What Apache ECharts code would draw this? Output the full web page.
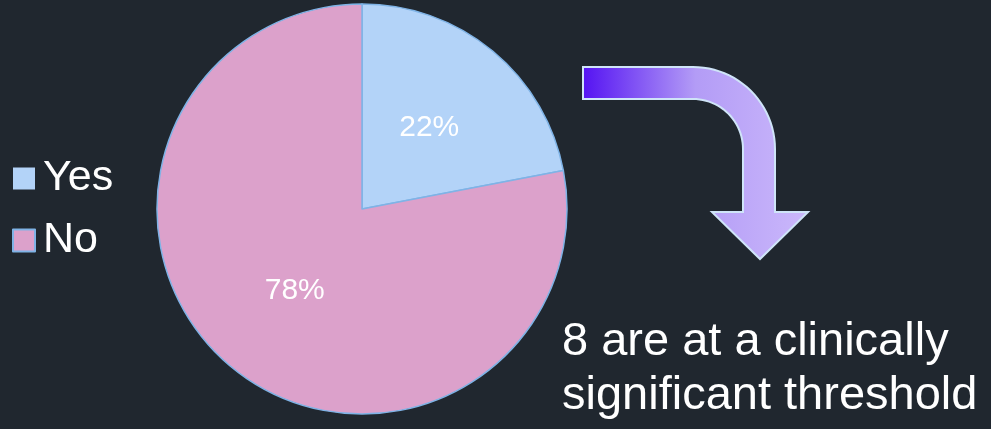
<!DOCTYPE html>
<html><head><meta charset="utf-8">
<script src="https://cdn.jsdelivr.net/npm/echarts@6/dist/echarts.min.js"></script>
<style>html,body{margin:0;padding:0;background:#20272f;}#c{width:991px;height:429px;}</style>
</head><body><div id="c"></div>
<script>
const categories = ['Yes', 'No'];
const values = [22, 78];
const noteLines = ['8 are at a clinically', 'significant threshold'];

// decorative curved arrow outline
function arrowPoints() {
  const cx = 693, cy = 149, ro = 82, ri = 50;
  const pts = [[583, 67]];
  for (let i = 0; i <= 24; i++) { const a = -Math.PI / 2 + (Math.PI / 2) * i / 24; pts.push([cx + ro * Math.cos(a), cy + ro * Math.sin(a)]); }
  pts.push([775, 212], [808, 212], [760, 259], [712, 212], [743, 212]);
  for (let i = 24; i >= 0; i--) { const a = -Math.PI / 2 + (Math.PI / 2) * i / 24; pts.push([cx + ri * Math.cos(a), cy + ri * Math.sin(a)]); }
  pts.push([583, 99]);
  return pts;
}

const chart = echarts.init(document.getElementById('c'));
chart.setOption({
  backgroundColor: '#20272f',
  animation: false,
  color: ['#b3d3f8', '#dca1cb'],
  legend: {
    orient: 'vertical', left: 7, top: 152,
    icon: 'rect', itemWidth: 22, itemHeight: 22, itemGap: 19,
    textStyle: { color: '#ffffff', fontSize: 43, fontFamily: 'Liberation Sans', padding: [0, 0, 0, 3] },
    data: [
      { name: 'Yes', itemStyle: { borderWidth: 0 } },
      { name: 'No' }
    ]
  },
  series: [{
    type: 'pie', center: [362, 209], radius: 205, startAngle: 90, clockwise: true,
    itemStyle: { borderColor: '#7fb3e6', borderWidth: 1.5 },
    label: { position: 'inside', formatter: '{d}%', color: '#ffffff', fontSize: 30, fontFamily: 'Liberation Sans' },
    labelLine: { show: false },
    emphasis: { disabled: true },
    data: categories.map((c, i) => ({ name: c, value: values[i] }))
  }],
  graphic: [
    {
      type: 'polygon',
      shape: { points: arrowPoints() },
      style: {
        fill: { type: 'linear', x: 0, y: 0, x2: 1, y2: 0, colorStops: [
          { offset: 0, color: '#5412f2' },
          { offset: 0.5, color: '#b39cf6' },
          { offset: 1, color: '#cbb8fb' }
        ] },
        stroke: '#cfe4f8', lineWidth: 2
      }
    },
    {
      type: 'text', left: 562, top: 315,
      style: { text: noteLines.join('\n'), fill: '#ffffff', fontSize: 47, lineHeight: 54, fontFamily: 'Liberation Sans' }
    }
  ]
});
</script></body></html>
